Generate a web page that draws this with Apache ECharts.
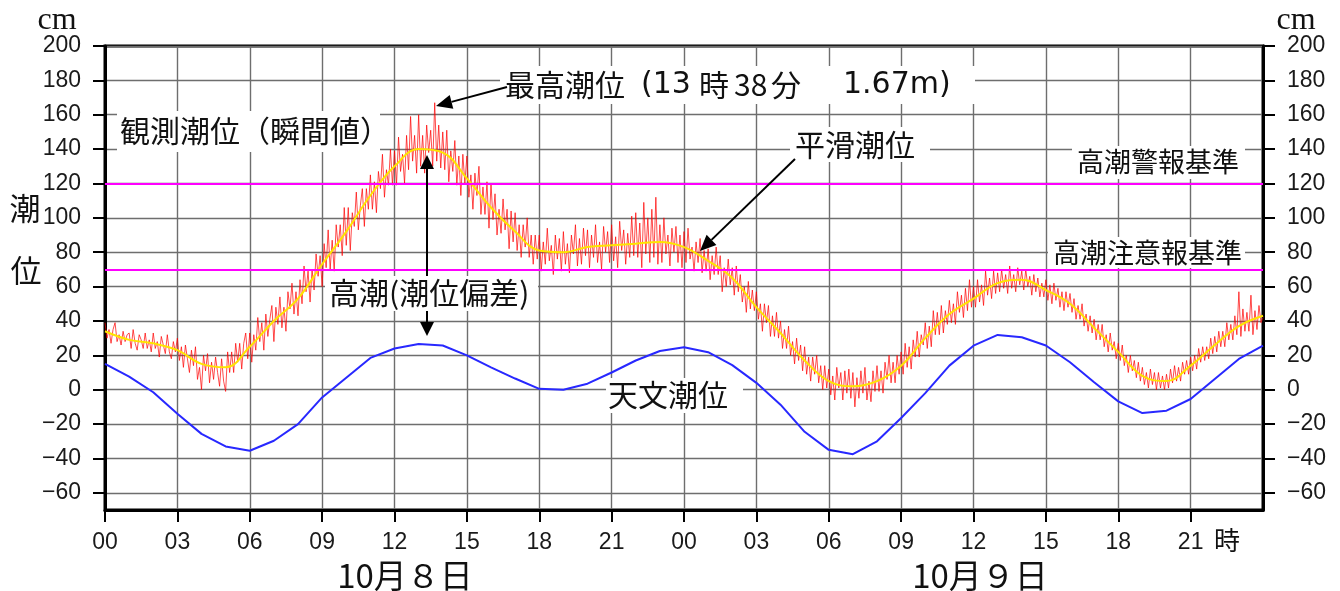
<!DOCTYPE html>
<html><head><meta charset="utf-8">
<script src="https://cdn.jsdelivr.net/npm/echarts@6/dist/echarts.min.js"></script>
<style>html,body{margin:0;padding:0;background:#fff}#c{width:1340px;height:591px}</style>
</head><body><div id="c"></div>
<script>
// hourly tick labels (x axis, hours from 10/8 00:00)
const xTickHours = [0,3,6,9,12,15,18,21,24,27,30,33,36,39,42,45];
const yTicks = [-60,-40,-20,0,20,40,60,80,100,120,140,160,180,200];
// astronomical tide (hourly, cm)
const astroTide = [15,7.6,-1.5,-14,-25.7,-33,-35.5,-29.7,-20,-4.5,7,18.5,24,26.6,25.7,20,13,6.5,0.5,0,3.5,10,17,22.5,24.7,21.8,14.3,4,-8.7,-24.5,-35,-37.5,-30,-16.5,-2,14,25.6,31.9,30.5,25.7,16,4.3,-6.8,-13.6,-12.2,-5.4,6.2,17.9,25.7];
// smoothed tide (hourly, cm)
const smoothTide = [34,29,27,23,15,13,25,40,53,73,92,113,130,140,138,123,106,92,81,80,83,84,85,86,83,75,65,48,33,17,5,2,5,14,30,44,53,62,64,58,50,36,22,8,5,14,26,37,43];
// observed tide, instantaneous (every 5 minutes, cm) - one row per hour
const observedTide = [
39,30,35,27,35,39,28,32,26,34,28,32,
33,24,35,27,23,32,29,24,33,24,29,22,
33,24,28,19,31,26,21,32,22,18,28,22,
30,17,25,13,26,18,10,23,14,25,6,13,
0,20,11,21,4,16,6,19,10,2,18,5,
-1,22,10,22,10,27,16,27,12,27,33,18,
33,16,32,23,42,28,39,23,44,31,41,49,
28,48,38,54,36,48,34,57,47,62,44,57,
43,64,50,72,57,69,51,70,58,79,66,78,
60,85,71,93,70,87,69,96,83,96,78,106,
84,106,81,103,95,115,93,107,117,95,117,105,
125,105,121,103,127,117,137,112,128,119,140,119,
139,119,147,127,137,120,148,128,159,133,148,126,
160,130,148,126,154,138,151,130,167,133,154,129,
150,128,151,121,139,127,145,119,136,113,137,120,
136,112,125,105,126,113,130,102,118,102,121,94,
120,99,114,90,105,91,111,93,105,82,104,86,
103,81,96,77,96,83,100,77,90,73,90,76,
90,69,86,73,94,75,84,67,90,76,88,69,
92,73,85,68,90,79,96,72,88,73,94,78,
93,71,90,77,96,74,86,70,95,80,92,74,
96,75,89,71,98,81,93,73,91,77,101,78,
103,77,97,71,109,79,100,74,105,77,112,73,
96,74,100,79,90,72,94,80,95,74,90,71,
92,74,94,76,83,69,86,74,88,68,81,69,
82,64,78,67,83,67,78,57,71,60,76,61,
71,55,72,57,67,51,60,45,63,47,58,46,
57,41,50,34,50,39,49,31,43,31,45,30,
40,24,35,24,37,20,28,15,30,17,26,11,
25,9,19,5,19,9,20,4,14,0,14,1,
12,-3,8,-6,13,1,10,-6,11,-2,12,-5,
10,-10,7,-5,11,-2,13,-6,5,-7,11,-1,
14,-1,11,-2,16,6,20,4,16,4,20,9,
22,9,27,13,25,12,29,19,34,19,32,26,
39,24,37,25,46,32,45,32,49,33,46,38,
52,39,50,38,57,45,55,42,59,46,64,48,
60,48,64,51,61,49,69,55,65,53,69,56,
68,57,70,59,67,56,72,59,67,57,71,61,
69,58,70,60,66,55,67,57,65,54,62,54,
64,52,61,50,62,52,59,48,57,46,57,48,
56,45,53,41,49,41,50,37,44,34,43,33,
41,29,38,29,38,25,32,22,33,23,28,18,
27,17,26,14,20,10,20,11,17,7,16,5,
13,3,10,1,12,3,10,0,10,1,8,0,
9,1,12,4,14,5,13,5,16,9,17,9,
19,11,20,12,24,16,25,17,25,18,30,21,
31,22,34,25,34,25,39,29,38,29,43,32,
57,31,47,34,45,34,55,32,46,35,49,39,
42];
const warningLevel = 120;
const advisoryLevel = 70;

const chart = echarts.init(document.getElementById('c'), null, {renderer:'canvas'});
const lblFont = {fontFamily:'Liberation Sans', fontSize:23, color:'#1a1a1a'};
const pad2 = v => (v%24 < 10 ? '0' : '') + (v%24);
const yFmt = v => String(v).replace('-', '\u2212');
const jp = 'Noto Sans CJK JP';
const gridColor = '#6e6e6e';

function yAxisCfg(pos){
  return {
    type:'value', position:pos, min:-70, max:200, interval:10,
    axisLine:{show:true, lineStyle:{color:'#000', width:3}},
    axisTick:{show:true, inside:false, length:12, lineStyle:{color:'#000', width:2}, customValues:yTicks},
    axisLabel:Object.assign({margin:24, formatter:yFmt, customValues:yTicks}, lblFont),
    splitLine:{show:pos==='left', lineStyle:{color:gridColor, width:1.4}}
  };
}

function box(x,y,w,h){ return {type:'rect', shape:{x:x,y:y,width:w,height:h}, style:{fill:'#fff'}, z:50}; }
function txt(t,x,y,size,align,family){ return {type:'text', x:x, y:y, z:60, style:{text:t, font: size+'px "'+(family||jp)+'"', fill:'#111', align:align||'left', verticalAlign:'middle'}}; }
function line(x1,y1,x2,y2){ return {type:'line', shape:{x1:x1,y1:y1,x2:x2,y2:y2}, style:{stroke:'#000', lineWidth:2}, z:55}; }
function tri(pts){ return {type:'polygon', shape:{points:pts}, style:{fill:'#000'}, z:56}; }

chart.setOption({
  animation:false,
  backgroundColor:'#fff',
  grid:{left:105, right:77, top:46, bottom:81, show:true, borderColor:'#000', borderWidth:3, backgroundColor:'#fff'},
  xAxis:{
    type:'value', min:0, max:48, interval:1,
    axisLine:{show:true, onZero:false, lineStyle:{color:'#000', width:3}},
    axisTick:{show:true, length:12, lineStyle:{color:'#000', width:2}, customValues:xTickHours},
    axisLabel:Object.assign({margin:21, formatter:pad2, customValues:xTickHours}, lblFont),
    splitLine:{show:true, lineStyle:{color:gridColor, width:1.4}}
  },
  yAxis:[yAxisCfg('left'), yAxisCfg('right')],
  series:[
    {type:'line', name:'観測潮位', data:observedTide.map((v,i)=>[i/12, v]), showSymbol:false, symbol:'none',
     lineStyle:{color:'#ff0000', width:1, opacity:0.7}, z:3},
    {type:'line', name:'平滑潮位', data:smoothTide.map((v,i)=>[i, v]), smooth:0.4, showSymbol:false, symbol:'none',
     lineStyle:{color:'#ffe400', width:2}, z:4},
    {type:'line', name:'天文潮位', data:astroTide.map((v,i)=>[i, v]), showSymbol:false, symbol:'none',
     lineStyle:{color:'#2828ff', width:2}, z:5,
     markLine:{silent:true, symbol:'none', label:{show:false}, lineStyle:{color:'#ff00ff', width:2, type:'solid'},
       data:[{yAxis:warningLevel},{yAxis:advisoryLevel}]}}
  ],
  graphic:[
    txt('cm', 57, 21, 32, 'center', 'Liberation Serif'),
    txt('cm', 1296, 21, 32, 'center', 'Liberation Serif'),
    txt('潮', 25, 208, 31, 'center'),
    txt('位', 26, 270, 31, 'center'),
    txt('時', 1227, 540, 26, 'center'),
    txt('10月８日', 405, 575, 33, 'center'),
    txt('10月９日', 980, 575, 33, 'center'),
    box(117,111,263,41), txt('観測潮位（瞬間値）', 120, 131, 30),
    box(500,66,475,38),
    txt('最高潮位', 505, 85, 30), txt('(13', 641, 85, 30, 'left', 'DejaVu Sans'),
    txt('時', 699, 85, 30), txt('38', 734, 85, 30),
    txt('分', 771, 85, 30), txt('1.67m)', 843, 85, 30, 'left', 'DejaVu Sans'),
    box(790,127,140,35), txt('平滑潮位', 795, 145, 30),
    box(1072,146,173,33), txt('高潮警報基準', 1077, 162, 27),
    box(1048,237,197,31), txt('高潮注意報基準', 1053, 253, 27),
    box(325,276,213,35), txt('高潮(潮位偏差)', 329, 293, 30),
    box(606,378,137,35), txt('天文潮位', 608, 395, 30),
    line(507,87,451.5,101.9), tri([[436,106],[453.3,108.7],[449.7,95.1]]),
    line(795,159,711.5,239.9), tri([[700,251],[716.4,244.9],[706.6,234.8]]),
    line(427,168,427,276), line(427,311,427,322),
    tri([[427,155],[420,169],[434,169]]),
    tri([[427,336],[420,322],[434,322]])
  ]
});
</script></body></html>
